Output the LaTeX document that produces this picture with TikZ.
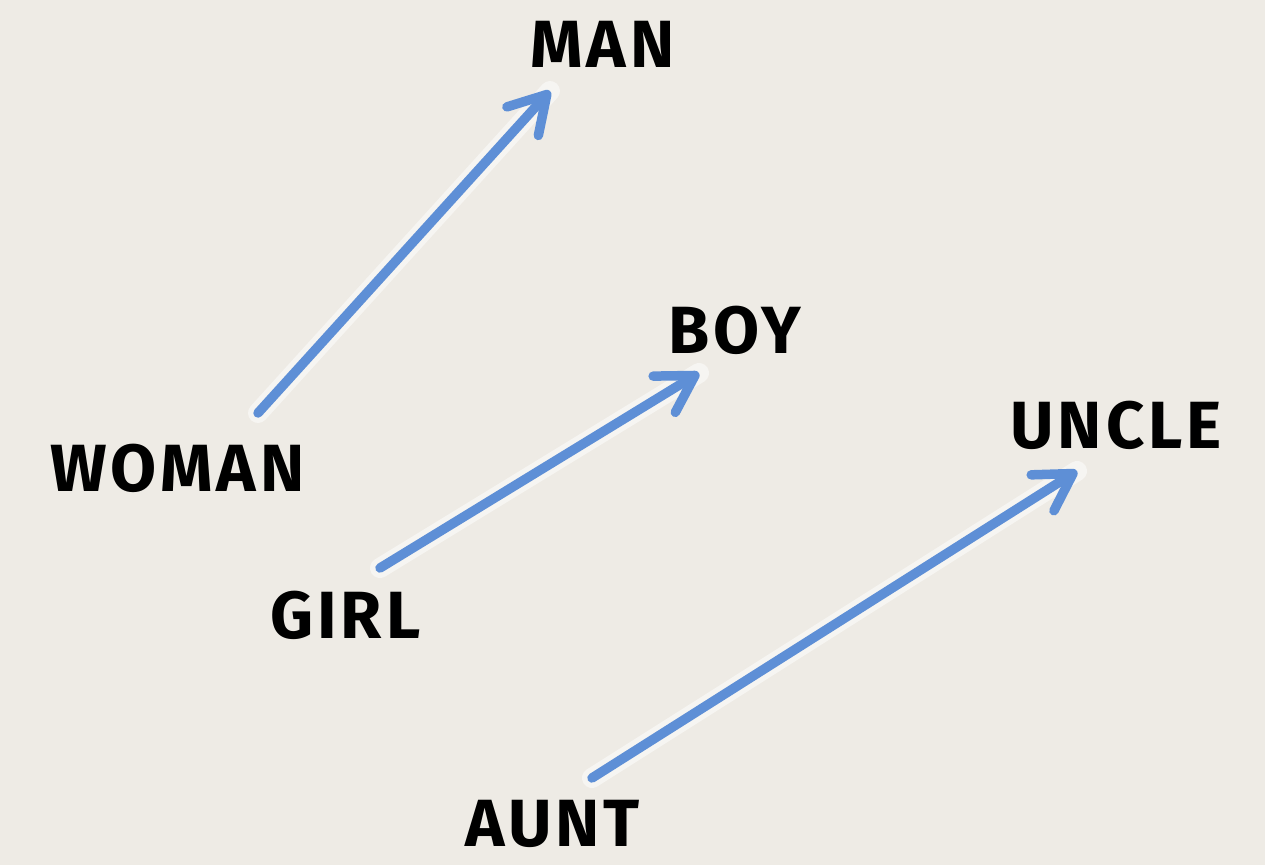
\documentclass[tikz,border=0pt]{standalone}
\usepackage{fontspec}
\setmainfont{Fira Sans}[LetterSpace=6]
\usetikzlibrary{arrows.meta}
\definecolor{paper}{RGB}{238,235,229}
\definecolor{arrowblue}{RGB}{94,143,214}
\tikzset{
  word/.style={anchor=base west, inner sep=0pt, font=\fontsize{38}{40}\selectfont\bfseries, text=black},
  vec/.style={draw=arrowblue, line width=9.5*0.02cm, line cap=round,
    -{Straight Barb[length=0.72cm, width=0.85cm, line width=9.5*0.02cm, round]}},
  halo/.style={draw=white, opacity=0.5, line width=20*0.02cm, line cap=round}
}
\begin{document}
\begin{tikzpicture}[x=0.02cm,y=-0.02cm]
\fill[paper] (0,0) rectangle (1265,865);
\useasboundingbox (0,0) rectangle (1265,865);
\node[word] (man) at (530,68) {MAN};
\node[word] (woman) at (50,491) {WOMAN};
\node[word] (boy) at (668,353) {BOY};
\node[word] (girl) at (270,638) {GIRL};
\node[word] (uncle) at (1010,448) {UNCLE};
\node[word] (aunt) at (465,846) {AUNT};
\coordinate (wstart) at (258,413);
\coordinate (mend) at (550,91);
\coordinate (gstart) at (380,568);
\coordinate (bend) at (699,373);
\coordinate (astart) at (592,778);
\coordinate (uend) at (1077,471);
\draw[halo] (wstart) -- (mend);
\draw[halo] (gstart) -- (bend);
\draw[halo] (astart) -- (uend);
\draw[vec] (wstart) -- (mend);
\draw[vec] (gstart) -- (bend);
\draw[vec] (astart) -- (uend);
\end{tikzpicture}
\end{document}
